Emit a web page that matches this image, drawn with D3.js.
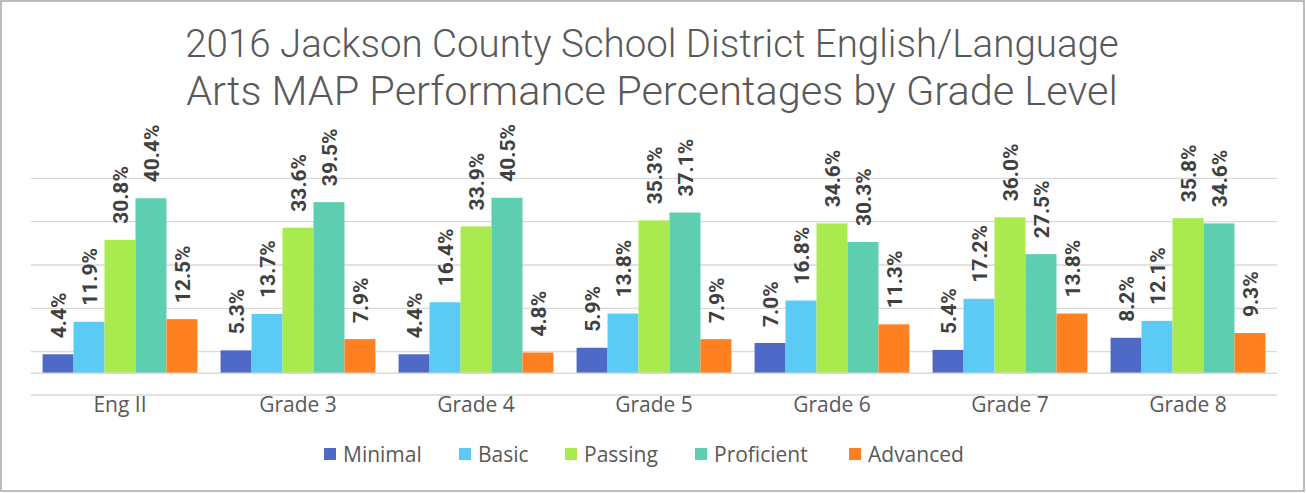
<!DOCTYPE html>
<html>
<head>
<meta charset="utf-8">
<script src="https://cdn.jsdelivr.net/npm/d3@7"></script>
<style>
  html, body { margin: 0; padding: 0; background: #fff; }
  svg { display: block; }
</style>
</head>
<body>
<div id="chart"></div>
<script>
const categories = ["Eng II", "Grade 3", "Grade 4", "Grade 5", "Grade 6", "Grade 7", "Grade 8"];
const seriesNames = ["Minimal", "Basic", "Passing", "Proficient", "Advanced"];
const minimal    = [4.4, 5.3, 4.4, 5.9, 7.0, 5.4, 8.2];
const basic      = [11.9, 13.7, 16.4, 13.8, 16.8, 17.2, 12.1];
const passing    = [30.8, 33.6, 33.9, 35.3, 34.6, 36.0, 35.8];
const proficient = [40.4, 39.5, 40.5, 37.1, 30.3, 27.5, 34.6];
const advanced   = [12.5, 7.9, 4.8, 7.9, 11.3, 13.8, 9.3];
const gridTicks  = [-5, 5, 15, 25, 35, 45];
const titleLines = ["2016 Jackson County School District English/Language",
                    "Arts MAP Performance Percentages by Grade Level"];

const colors = ["#4f69c6", "#5bcbf5", "#a9ea4f", "#5dceaf", "#ff8021"];
const seriesValues = [minimal, basic, passing, proficient, advanced];

const width = 1306, height = 493;
const font = "Roboto, 'Open Sans', sans-serif";
const textFont = "'Open Sans', Roboto, sans-serif";

const svg = d3.select("#chart").append("svg")
    .attr("width", width)
    .attr("height", height);

// outer frame
svg.append("rect")
    .attr("x", 1).attr("y", 1)
    .attr("width", 1303).attr("height", 490)
    .attr("fill", "#fff")
    .attr("stroke", "#a6a6a6")
    .attr("stroke-width", 1.5);

// title, fitted to the reference width
const titleTargets = [934, 932];
const title = svg.append("g");
titleLines.forEach((line, i) => {
    const t = title.append("text")
        .attr("x", 652)
        .attr("y", i === 0 ? 57 : 105)
        .attr("text-anchor", "middle")
        .attr("fill", "#595959")
        .style("font-family", font)
        .style("font-weight", 300)
        .style("font-size", "35px")
        .text(line);
    const len = t.node().getComputedTextLength();
    t.style("font-size", (35 * titleTargets[i] / len) + "px");
});

const x0 = d3.scaleBand()
    .domain(categories)
    .range([31, 1277])
    .paddingInner(0.13)
    .paddingOuter(0.065);

const x1 = d3.scaleBand()
    .domain(seriesNames)
    .range([0, x0.bandwidth()]);

const y = d3.scaleLinear()
    .domain([-5, 45])
    .range([395, 178.3]);

// gridlines
svg.append("g")
    .selectAll("line")
    .data(gridTicks)
    .join("line")
    .attr("x1", 31).attr("x2", 1277)
    .attr("y1", d => y(d)).attr("y2", d => y(d))
    .attr("stroke", "#d9d9d9")
    .attr("stroke-width", 1.3);

// bars
const rows = categories.map((c, ci) => ({
    cat: c,
    vals: seriesNames.map((s, si) => ({ s, si, v: seriesValues[si][ci] }))
}));

const groups = svg.append("g")
    .selectAll("g")
    .data(rows)
    .join("g")
    .attr("transform", d => `translate(${x0(d.cat)},0)`);

groups.selectAll("rect")
    .data(d => d.vals)
    .join("rect")
    .attr("x", d => x1(d.s))
    .attr("width", x1.bandwidth())
    .attr("y", d => y(d.v))
    .attr("height", d => y(0) - y(d.v))
    .attr("fill", d => colors[d.si]);

// category axis line at zero
svg.append("line")
    .attr("x1", 31).attr("x2", 1277)
    .attr("y1", y(0)).attr("y2", y(0))
    .attr("stroke", "#d9d9d9")
    .attr("stroke-width", 1.5);

// data labels
groups.selectAll("text.lbl")
    .data(d => d.vals)
    .join("text")
    .attr("class", "lbl")
    .attr("transform", d => `translate(${x1(d.s) + x1.bandwidth() / 2},${y(d.v) - 16}) rotate(-90)`)
    .attr("dy", "0.36em")
    .attr("fill", "#404040")
    .style("font-family", font)
    .style("font-weight", 700)
    .style("font-size", "21px")
    .text(d => d.v.toFixed(1) + "%");

// category labels
svg.append("g")
    .selectAll("text")
    .data(categories)
    .join("text")
    .attr("x", d => x0(d) + x0.bandwidth() / 2)
    .attr("y", 412)
    .attr("text-anchor", "middle")
    .attr("fill", "#595959")
    .style("font-family", textFont)
    .style("font-size", "21px")
    .text(d => d);

// legend
const legendX = [324, 459, 565, 695, 849];
const legend = svg.append("g")
    .selectAll("g")
    .data(seriesNames)
    .join("g")
    .attr("transform", (d, i) => `translate(${legendX[i]},448)`);

legend.append("rect")
    .attr("width", 12).attr("height", 12)
    .attr("fill", (d, i) => colors[i]);

legend.append("text")
    .attr("x", 19)
    .attr("y", 14)
    .attr("fill", "#595959")
    .style("font-family", textFont)
    .style("font-size", "21px")
    .text(d => d);
</script>
</body>
</html>
